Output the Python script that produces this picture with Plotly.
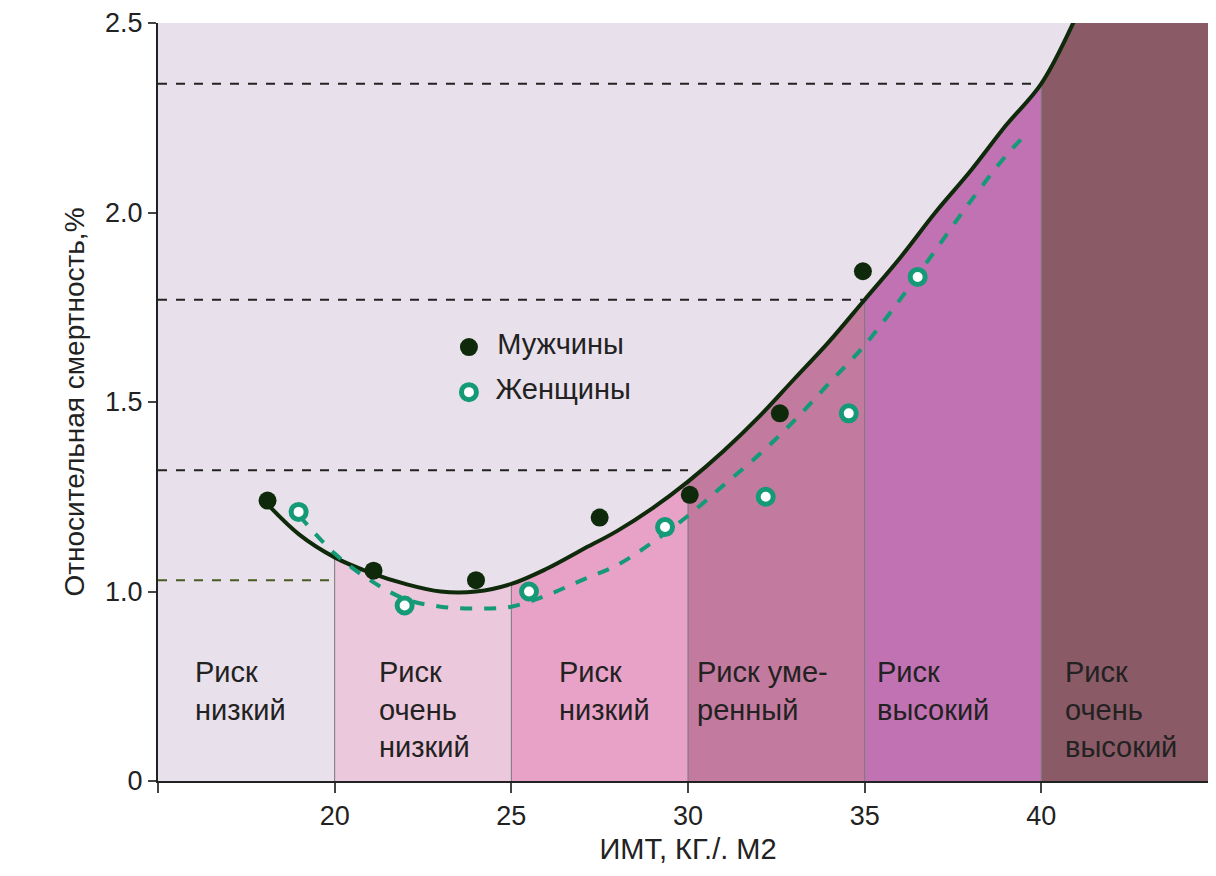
import plotly.graph_objects as go

# Кривая мужчин (сплошная)
men_curve_x = [18, 19, 20, 21, 22, 23, 24, 25, 26, 27, 28, 29, 30, 31, 32, 33, 34, 35, 36, 37, 38, 39, 40, 41]
men_curve_y = [1.24, 1.15, 1.09, 1.05, 1.02, 1.0, 1.0, 1.02, 1.06, 1.11, 1.16, 1.22, 1.29, 1.37, 1.46, 1.56, 1.66, 1.77, 1.88, 2.0, 2.11, 2.23, 2.34, 2.52]

# Кривая женщин (пунктир)
women_curve_x = [19, 20, 21, 22, 23, 24, 25, 26, 27, 28, 29, 30, 31, 32, 33, 34, 35, 36, 37, 38, 39, 39.5]
women_curve_y = [1.2, 1.1, 1.03, 0.98, 0.96, 0.955, 0.96, 0.99, 1.03, 1.07, 1.13, 1.2, 1.28, 1.36, 1.45, 1.55, 1.65, 1.77, 1.9, 2.03, 2.15, 2.2]

men_pts_x = [18.1, 21.1, 24.0, 27.5, 30.05, 32.6, 34.95]
men_pts_y = [1.24, 1.055, 1.03, 1.195, 1.255, 1.47, 1.845]
women_pts_x = [18.98, 21.98, 25.5, 29.35, 32.2, 34.55, 36.5]
women_pts_y = [1.21, 0.963, 1.0, 1.17, 1.25, 1.47, 1.83]

zones = [(20, 25), (25, 30), (30, 35), (35, 40), (40, 45)]
zone_colors = ["#ecc8dc", "#e8a2c8", "#c27a9e", "#c072b2", "#8a5a66"]
zone_labels = ["Риск<br>низкий", "Риск<br>очень<br>низкий", "Риск<br>низкий",
               "Риск уме-<br>ренный", "Риск<br>высокий", "Риск<br>очень<br>высокий"]
label_x = [16.0, 21.2, 26.3, 30.2, 35.3, 40.6]
label_y = [0.835, 0.835, 0.835, 0.835, 0.835, 0.835]

guide_x_end = [20, 30, 35, 40]
guide_y = [1.03, 1.32, 1.77, 2.34]
guide_colors = ["#4a5a20", "#222", "#222", "#222"]

FONT = "Liberation Sans, Arial, sans-serif"

fig = go.Figure()

for (a, b), col in zip(zones, zone_colors):
    xs = [x for x in men_curve_x if a <= x <= b]
    ys = [y for x, y in zip(men_curve_x, men_curve_y) if a <= x <= b]
    if b == 45:
        xs = xs + [41.2, 45]
        ys = ys + [2.6, 2.6]
    fig.add_trace(go.Scatter(x=xs, y=ys, fill="tozeroy", fillcolor=col, mode="none",
                             line=dict(shape="spline"), hoverinfo="skip", showlegend=False))

# вертикальные разделители
for (a, b) in zones:
    top = men_curve_y[men_curve_x.index(a)]
    fig.add_trace(go.Scatter(x=[a, a], y=[0.5, top], mode="lines",
                             line=dict(color="#777", width=1), showlegend=False))

for xe, yv, c in zip(guide_x_end, guide_y, guide_colors):
    fig.add_trace(go.Scatter(x=[15, xe], y=[yv, yv], mode="lines",
                             line=dict(color=c, width=2, dash="dash"), showlegend=False))

fig.add_trace(go.Scatter(x=men_curve_x, y=men_curve_y, mode="lines",
                         line=dict(color="#0f2a0a", width=4, shape="spline"), showlegend=False))
fig.add_trace(go.Scatter(x=women_curve_x, y=women_curve_y, mode="lines",
                         line=dict(color="#159a78", width=4, dash="dash", shape="spline"), showlegend=False))
fig.add_trace(go.Scatter(x=men_pts_x, y=men_pts_y, mode="markers",
                         marker=dict(color="#0f2a0a", size=18), showlegend=False))
fig.add_trace(go.Scatter(x=women_pts_x, y=women_pts_y, mode="markers",
                         marker=dict(color="white", size=15, line=dict(color="#159a78", width=5)),
                         showlegend=False))

# легенда
fig.add_trace(go.Scatter(x=[23.8], y=[1.645], mode="markers+text", text=["  Мужчины"],
                         textposition="middle right", textfont=dict(size=29, color="#222", family=FONT),
                         marker=dict(color="#0f2a0a", size=18), showlegend=False))
fig.add_trace(go.Scatter(x=[23.8], y=[1.526], mode="markers+text", text=["  Женщины"],
                         textposition="middle right", textfont=dict(size=29, color="#222", family=FONT),
                         marker=dict(color="white", size=15, line=dict(color="#159a78", width=5)),
                         showlegend=False))

for t, x, y in zip(zone_labels, label_x, label_y):
    fig.add_annotation(x=x, y=y, text=t, showarrow=False, xanchor="left", yanchor="top",
                       align="left", font=dict(size=29, color="#222", family=FONT))

fig.update_layout(
    width=1216, height=876,
    margin=dict(l=150, r=6, t=15, b=103, autoexpand=False),
    paper_bgcolor="white", plot_bgcolor="#e8e0ea",
    font=dict(family=FONT, color="#222"),
)
fig.update_xaxes(range=[15, 45], tickvals=[15, 20, 25, 30, 35, 40], ticktext=["", "20", "25", "30", "35", "40"],
                 ticks="outside", ticklen=10, tickwidth=2, showgrid=False, zeroline=False, automargin=False,
                 showline=True, linecolor="#222", linewidth=2, tickfont=dict(size=27),
                 title=dict(text="ИМТ, КГ./. М2", font=dict(size=29), standoff=8))
fig.update_yaxes(range=[0.5, 2.5], tickvals=[0.5, 1.0, 1.5, 2.0, 2.5], ticktext=["0", "1.0", "1.5", "2.0", "2.5"],
                 ticks="outside", ticklen=8, tickwidth=2, showgrid=False, zeroline=False, automargin=False,
                 showline=True, linecolor="#222", linewidth=2, tickfont=dict(size=27),
                 title=dict(text="Относительная смертность,%", font=dict(size=28), standoff=12))

fig.write_html("out.html")
